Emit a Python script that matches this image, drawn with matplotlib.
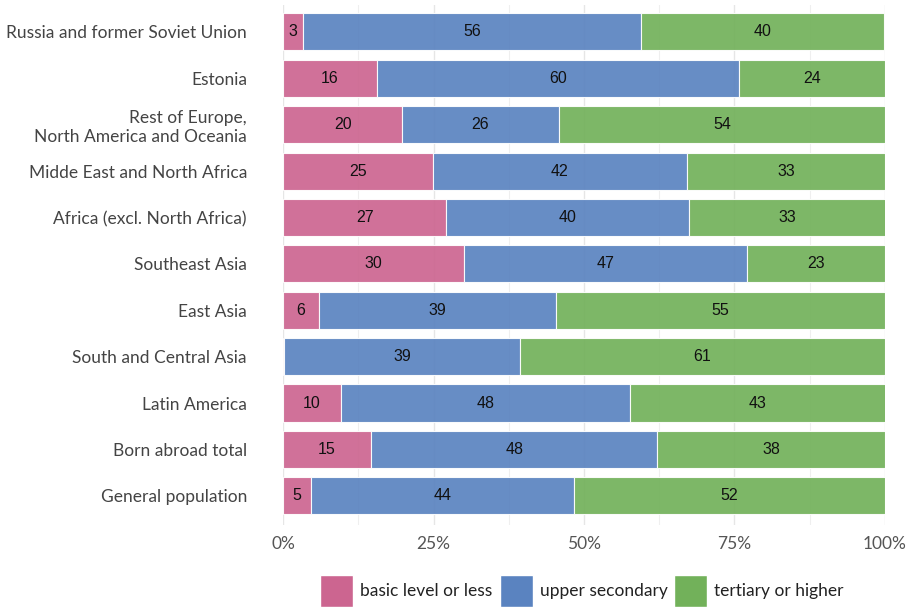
import numpy as np
import matplotlib.pyplot as plt
from matplotlib.patches import Patch

groups = ['Russia and former Soviet Union', 'Estonia',
          'Rest of Europe,\nNorth America and Oceania',
          'Midde East and North Africa', 'Africa (excl. North Africa)',
          'Southeast Asia', 'East Asia', 'South and Central Asia',
          'Latin America', 'Born abroad total', 'General population']
basic = [3.3, 15.6, 19.8, 24.9, 27.1, 30.1, 6.0, 0.2, 9.6, 14.6, 4.6]
upper = [56.2, 60.2, 26.0, 42.2, 40.4, 47.0, 39.3, 39.2, 48.0, 47.6, 43.8]
tertiary = [40.4, 24.2, 54.2, 32.9, 32.6, 22.9, 54.7, 60.6, 42.6, 37.8, 51.6]
levels = ['basic level or less', 'upper secondary', 'tertiary or higher']
colors = ['#CC6590', '#5A83C0', '#72B15A']

plt.rcParams['font.family'] = ['Lato', 'DejaVu Sans']

fig = plt.figure(figsize=(9.11, 6.07), dpi=100)
ax = fig.add_axes([283 / 911, 1 - 525 / 607, 602 / 911, 520 / 607])

y = np.arange(len(groups))
left = np.zeros(len(groups))
for vals, col in zip([basic, upper, tertiary], colors):
    vals = np.array(vals)
    ax.barh(y, vals, left=left, height=0.8, color=col, alpha=0.92,
            edgecolor='white', linewidth=0.8, zorder=2)
    for yi, (l, v) in enumerate(zip(left, vals)):
        if v >= 2:
            ax.text(l + v / 2, yi, f'{v:.0f}', ha='center', va='center',
                    fontsize=11.5, family='Liberation Sans', color='#111111', zorder=3)
    left += vals

ax.set_xlim(0, 100)
ax.set_ylim(len(groups) - 1 + 0.63, -0.58)
ax.set_yticks(y)
ax.set_yticklabels(groups, fontsize=12.5, color='#444444')
ax.set_xticks([0, 25, 50, 75, 100])
ax.set_xticklabels(['0%', '25%', '50%', '75%', '100%'], fontsize=12.5, color='#555555')
ax.set_xticks([12.5, 37.5, 62.5, 87.5], minor=True)
ax.tick_params(axis='both', which='both', length=0, pad=8)
ax.tick_params(axis='y', pad=26)
ax.grid(axis='x', which='major', color='#E6E6E6', linewidth=1, zorder=0)
ax.grid(axis='x', which='minor', color='#EFEFEF', linewidth=0.8, zorder=0)
ax.set_axisbelow(True)
for s in ax.spines.values():
    s.set_visible(False)

handles = [Patch(facecolor=c, edgecolor='white', label=l) for c, l in zip(colors, levels)]
fig.legend(handles=handles, loc='center', bbox_to_anchor=(0.639, 1 - 591 / 607),
           ncol=3, frameon=False, fontsize=12.5, handlelength=1.9, handleheight=2.4,
           handletextpad=0.4, columnspacing=0.4, labelcolor='#222222')

fig.savefig('out.png', dpi=100)
